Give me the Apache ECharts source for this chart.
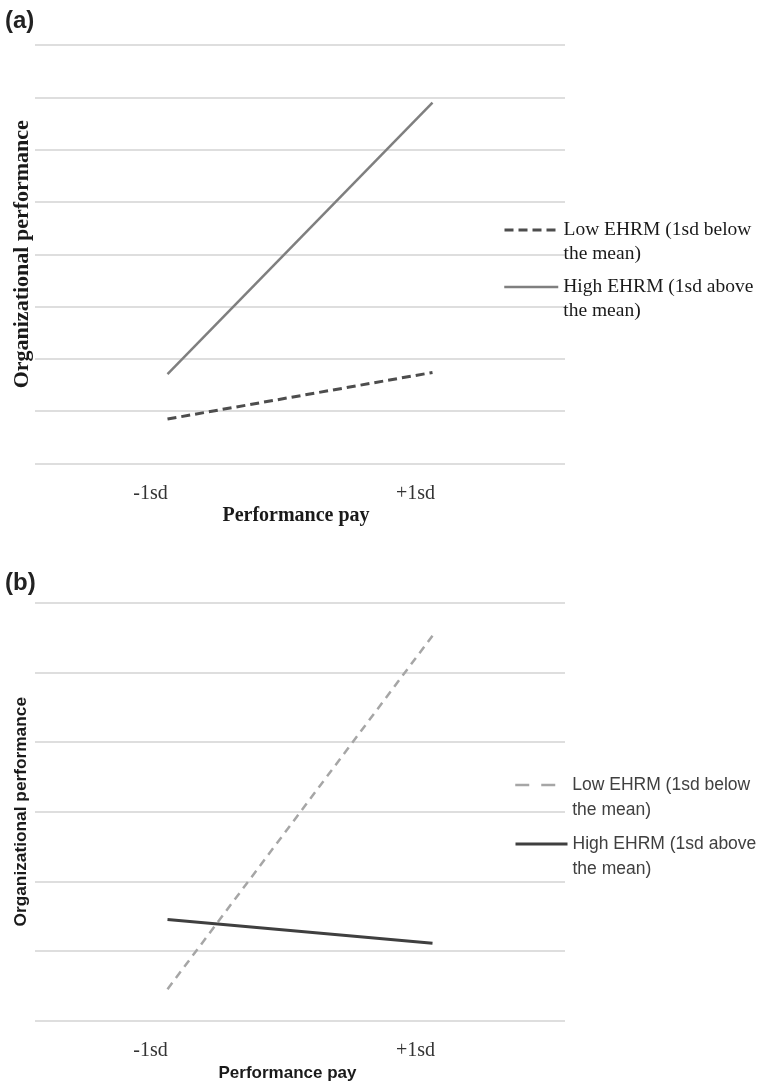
<!DOCTYPE html>
<html>
<head>
<meta charset="utf-8">
<script src="https://cdn.jsdelivr.net/npm/echarts@6/dist/echarts.min.js"></script>
<style>
  html, body { margin: 0; padding: 0; background: #fff; }
  #main { width: 758px; height: 1087px; }
</style>
</head>
<body>
<div id="main"></div>
<script>
// 数据
var categories = ['-1sd', '+1sd'];
// (a)
var aLowEhrm = [0.85, 1.74];
var aHighEhrm = [1.71, 6.90];
// (b)
var bLowEhrm = [0.45, 5.53];
var bHighEhrm = [1.45, 1.11];

var lowName = 'Low EHRM (1sd below the mean)';
var highName = 'High EHRM (1sd above the mean)';
var lowNameB = 'Low EHRM (1sd below the mean) ';
var highNameB = 'High EHRM (1sd above the mean) ';

var serif = 'Liberation Serif';
var sans = 'Liberation Sans';

// 图例文字分两行，前面加一个空行让第一行和图标对齐
function legendText(name) {
  if (name.indexOf('Low') === 0) return '\nLow EHRM (1sd below\nthe mean)';
  return '\nHigh EHRM (1sd above\nthe mean)';
}

function legendItem(name, top, left, width, font, size, lh, color, lineStyle) {
  return {
    data: [{name: name, lineStyle: lineStyle}],
    orient: 'vertical',
    left: left,
    top: top,
    padding: 0,
    itemWidth: width,
    itemHeight: 12,
    formatter: legendText,
    selectedMode: false,
    // 只要线，不要中间的圆点
    itemStyle: {color: 'rgba(0,0,0,0)', borderWidth: 0, opacity: 0},
    textStyle: {
      fontFamily: font,
      fontSize: size,
      lineHeight: lh,
      color: color
    }
  };
}

var chart = echarts.init(document.getElementById('main'));

chart.setOption({
  animation: false,
  backgroundColor: '#fff',
  title: [
    {text: '(a)', left: 5, top: 9, padding: 0, textStyle: {fontFamily: sans, fontWeight: 'bold', fontSize: 24, color: '#222'}},
    {text: '(b)', left: 5, top: 571, padding: 0, textStyle: {fontFamily: sans, fontWeight: 'bold', fontSize: 24, color: '#222'}}
  ],
  legend: [
    legendItem(lowName, 194, 503, 54, serif, 19.5, 24, '#1a1a1a', {width: 3, type: [9, 5]}),
    legendItem(highName, 251, 503, 54, serif, 19.5, 24, '#1a1a1a', {width: 2.5}),
    legendItem(lowNameB, 747.5, 514, 52, sans, 17.5, 25, '#404040', {width: 2.5, type: [14, 12]}),
    legendItem(highNameB, 806.5, 514, 52, sans, 17.5, 25, '#404040', {width: 3})
  ],
  grid: [
    {left: 35, right: 193, top: 45, height: 418.5},
    {left: 35, right: 193, top: 603, height: 417.5}
  ],
  xAxis: [
    {
      type: 'category',
      gridIndex: 0,
      data: categories,
      axisLine: {show: false},
      axisTick: {show: false},
      axisLabel: {margin: 20, padding: [0, 34, 0, 0], fontFamily: serif, fontSize: 20, lineHeight: 20, color: '#333'},
      name: 'Performance pay',
      nameLocation: 'middle',
      nameGap: 42,
      nameTextStyle: {fontFamily: serif, fontWeight: 'bold', fontSize: 20, lineHeight: 20, color: '#1a1a1a', padding: [0, 8, 0, 0]}
    },
    {
      type: 'category',
      gridIndex: 1,
      data: categories,
      axisLine: {show: false},
      axisTick: {show: false},
      axisLabel: {margin: 20, padding: [0, 34, 0, 0], fontFamily: serif, fontSize: 20, lineHeight: 20, color: '#333'},
      name: 'Performance pay',
      nameLocation: 'middle',
      nameGap: 44,
      nameTextStyle: {fontFamily: sans, fontWeight: 'bold', fontSize: 17, lineHeight: 17, color: '#1a1a1a', padding: [0, 25, 0, 0]}
    }
  ],
  yAxis: [
    {
      type: 'value',
      gridIndex: 0,
      min: 0,
      max: 8,
      interval: 1,
      axisLine: {show: false},
      axisTick: {show: false},
      axisLabel: {show: false},
      splitLine: {lineStyle: {color: '#d3d3d3', width: 1.5}},
      name: 'Organizational performance',
      nameLocation: 'middle',
      nameGap: 2,
      nameTextStyle: {fontFamily: serif, fontWeight: 'bold', fontSize: 22, lineHeight: 22, color: '#1a1a1a'}
    },
    {
      type: 'value',
      gridIndex: 1,
      min: 0,
      max: 6,
      interval: 1,
      axisLine: {show: false},
      axisTick: {show: false},
      axisLabel: {show: false},
      splitLine: {lineStyle: {color: '#d3d3d3', width: 1.5}},
      name: 'Organizational performance',
      nameLocation: 'middle',
      nameGap: 4,
      nameTextStyle: {fontFamily: sans, fontWeight: 'bold', fontSize: 17.3, lineHeight: 20, color: '#1a1a1a'}
    }
  ],
  series: [
    {
      name: lowName, type: 'line', xAxisIndex: 0, yAxisIndex: 0,
      data: aLowEhrm, symbol: 'none',
      lineStyle: {color: '#4d4d4d', width: 3, type: [9, 5]},
      itemStyle: {color: '#4d4d4d'}
    },
    {
      name: highName, type: 'line', xAxisIndex: 0, yAxisIndex: 0,
      data: aHighEhrm, symbol: 'none',
      lineStyle: {color: '#7f7f7f', width: 2.5},
      itemStyle: {color: '#7f7f7f'}
    },
    {
      name: lowNameB, type: 'line', xAxisIndex: 1, yAxisIndex: 1,
      data: bLowEhrm, symbol: 'none',
      lineStyle: {color: '#a6a6a6', width: 2.5, type: [8, 6]},
      itemStyle: {color: '#a6a6a6'}
    },
    {
      name: highNameB, type: 'line', xAxisIndex: 1, yAxisIndex: 1,
      data: bHighEhrm, symbol: 'none',
      lineStyle: {color: '#3f3f3f', width: 3},
      itemStyle: {color: '#3f3f3f'}
    }
  ]
});
</script>
</body>
</html>
